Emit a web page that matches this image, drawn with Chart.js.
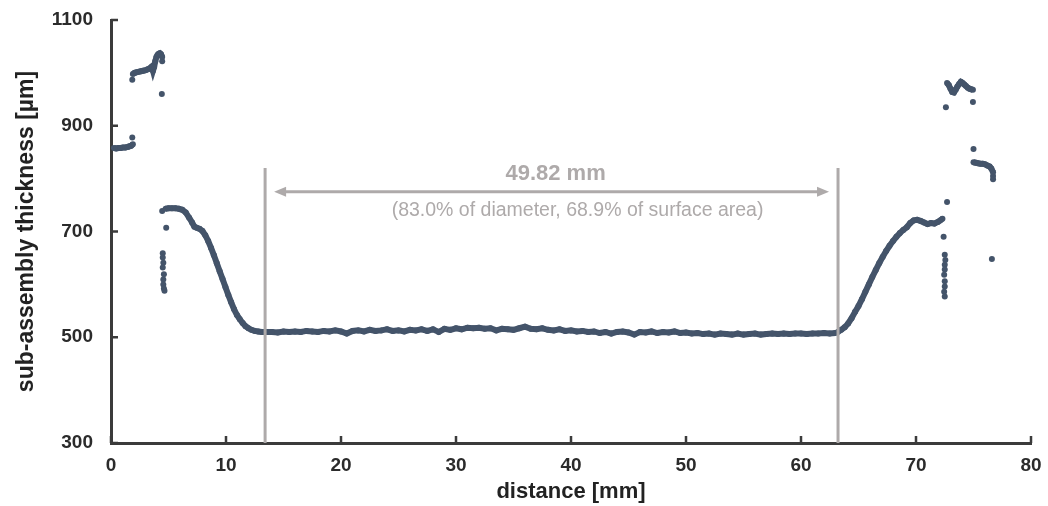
<!DOCTYPE html>
<html>
<head>
<meta charset="utf-8">
<script src="https://cdn.jsdelivr.net/npm/chart.js@4/dist/chart.umd.min.js"></script>
<style>
  html, body { margin: 0; padding: 0; background: #fff; }
</style>
</head>
<body>
<canvas id="thicknessChart" width="1048" height="506"></canvas>
<script>
// axis ticks
var xTicks = [0, 10, 20, 30, 40, 50, 60, 70, 80];
var yTicks = [300, 500, 700, 900, 1100];

// left edge, lower step
var leftLowX = [0.25, 0.45, 0.65, 0.85, 1.05, 1.25, 1.45, 1.6, 1.75, 1.9];
var leftLowY = [858, 857, 858, 858, 859, 859, 860, 861, 862, 865];

// left edge, upper step
var leftHighX = [1.9, 2.05, 2.2, 2.4, 2.6, 2.8, 3.0, 3.2, 3.4, 3.55, 3.65, 3.75, 3.85, 3.95, 4.05, 4.15, 4.25, 4.35, 4.45];
var leftHighY = [998, 1000, 1001, 1002, 1003, 1004, 1005, 1007, 1009, 1012, 1004, 1011, 1022, 1030, 1034, 1036, 1037, 1035, 1030];

// left shoulder down to the flat zone
var leftSlopeX = [4.75, 5.0, 5.3, 5.6, 5.9, 6.2, 6.5, 6.8, 7.05, 7.25, 7.45, 7.7, 7.95, 8.2, 8.45, 8.7, 8.95, 9.2, 9.45, 9.7,
                  9.95, 10.2, 10.45, 10.7, 10.95, 11.2, 11.45, 11.7, 11.95, 12.2, 12.5, 12.8, 13.1, 13.4];
var leftSlopeY = [743, 744, 744, 744, 743, 741, 736, 726, 717, 709, 707, 705, 701, 693, 682, 669, 655, 640, 625, 610,
                  595, 580, 566, 553, 542, 534, 527, 521, 517, 514, 512, 511, 510, 510];

// flat zone
var flatX = [13.5, 14, 14.5, 15, 15.5, 16, 16.5, 17, 17.5, 18, 18.5, 19, 19.5, 20, 20.5, 21, 21.5, 22, 22.5, 23,
             23.5, 24, 24.5, 25, 25.5, 26, 26.5, 27, 27.5, 28, 28.5, 29, 29.5, 30, 30.5, 31, 31.5, 32, 32.5, 33,
             33.5, 34, 34.5, 35, 35.5, 36, 36.5, 37, 37.5, 38, 38.5, 39, 39.5, 40, 40.5, 41, 41.5, 42, 42.5, 43,
             43.5, 44, 44.5, 45, 45.5, 46, 46.5, 47, 47.5, 48, 48.5, 49, 49.5, 50, 50.5, 51, 51.5, 52, 52.5, 53,
             53.5, 54, 54.5, 55, 55.5, 56, 56.5, 57, 57.5, 58, 58.5, 59, 59.5, 60, 60.5, 61, 61.5, 62, 62.5, 63];
var flatY = [510, 510, 509, 511, 510, 511, 510, 512, 511, 510, 512, 511, 513, 511, 507, 512, 513, 511, 514, 512,
             513, 515, 512, 513, 511, 514, 513, 515, 512, 515, 510, 516, 514, 517, 515, 518, 517, 518, 516, 517,
             513, 516, 515, 514, 517, 520, 516, 515, 517, 514, 513, 515, 512, 513, 511, 512, 510, 511, 508, 510,
             507, 510, 511, 509, 505, 510, 509, 511, 508, 510, 509, 511, 508, 509, 507, 508, 506, 507, 505, 507,
             506, 505, 507, 505, 506, 507, 505, 506, 507, 506, 507, 506, 507, 507, 506, 507, 507, 508, 507, 508];

// right shoulder up from the flat zone
var rightSlopeX = [63.2, 63.5, 63.8, 64.1, 64.4, 64.7, 65.0, 65.3, 65.6, 65.9, 66.2, 66.5, 66.8, 67.1, 67.4, 67.7,
                   68.0, 68.3, 68.6, 68.9, 69.2, 69.5, 69.8, 70.1, 70.4, 70.7, 71.0, 71.3, 71.6, 71.9, 72.1, 72.3];
var rightSlopeY = [510, 514, 519, 526, 536, 548, 559, 572, 586, 600, 614, 627, 640, 652, 663, 673,
                   682, 690, 697, 703, 708, 716, 721, 722, 720, 717, 714, 716, 715, 718, 721, 724];

// right edge, upper step
var rightHighX = [72.7, 72.85, 73.0, 73.15, 73.3, 73.45, 73.6, 73.75, 73.9, 74.05, 74.2, 74.35, 74.5, 74.65, 74.8, 74.95];
var rightHighY = [981, 977, 970, 964, 963, 968, 974, 979, 983, 981, 978, 975, 972, 970, 969, 968];

// right edge, lower step
var rightMidX = [75.0, 75.2, 75.4, 75.6, 75.8, 76.0, 76.2, 76.4, 76.55, 76.7];
var rightMidY = [831, 830, 829, 828, 828, 827, 825, 823, 819, 812];

// isolated readings at the edges
var strayX = [1.85, 1.85, 4.42, 4.45, 4.45, 4.8, 4.5, 4.5, 4.55, 4.5, 4.6, 4.55, 4.55, 4.6, 4.65,
              72.7, 72.4, 72.5, 72.55, 72.5, 72.5, 72.45, 72.5, 72.5, 72.45, 72.5, 72.6, 74.95, 75.0, 76.7, 76.7, 76.6];
var strayY = [878, 987, 960, 1022, 739, 707, 659, 651, 641, 632, 619, 609, 600, 592, 588,
              756, 690, 656, 646, 637, 628, 618, 606, 596, 586, 577, 935, 945, 856, 805, 799, 648];

// measured span
var spanStart = 13.40;
var spanEnd = 63.22;
var spanTop = 820;
var spanArrowY = 775;
var spanLabel = '49.82 mm';
var spanNote = '(83.0% of diameter, 68.9% of surface area)';

var dotColor = '#44546A';
var markColor = '#AEAAAA';
var axisColor = '#3b3b3b';

function toPoints(xs, ys) {
  return xs.map(function (x, i) { return { x: x, y: ys[i] }; });
}

function band(xs, ys) {
  return {
    data: toPoints(xs, ys),
    showLine: true,
    borderColor: dotColor,
    backgroundColor: dotColor,
    borderWidth: 6,
    pointRadius: 3,
    pointBorderWidth: 0,
    pointHoverRadius: 3
  };
}

// short tick marks pointing into the plot
var innerTicks = {
  id: 'innerTicks',
  afterDraw: function (chart) {
    var ctx = chart.ctx, xs = chart.scales.x, ys = chart.scales.y, a = chart.chartArea;
    ctx.save();
    ctx.strokeStyle = axisColor;
    ctx.lineWidth = 2.5;
    ctx.beginPath();
    xTicks.forEach(function (v) {
      var px = xs.getPixelForValue(v);
      ctx.moveTo(px, a.bottom);
      ctx.lineTo(px, a.bottom - 7);
    });
    yTicks.forEach(function (v) {
      var py = ys.getPixelForValue(v);
      ctx.moveTo(a.left, py);
      ctx.lineTo(a.left + 7, py);
    });
    ctx.stroke();
    ctx.restore();
  }
};

// span markers, double arrow and its labels
var spanMarker = {
  id: 'spanMarker',
  afterDatasetsDraw: function (chart) {
    var ctx = chart.ctx, xs = chart.scales.x, ys = chart.scales.y;
    var x1 = xs.getPixelForValue(spanStart), x2 = xs.getPixelForValue(spanEnd);
    var top = ys.getPixelForValue(spanTop), bottom = ys.getPixelForValue(300);
    var ay = ys.getPixelForValue(spanArrowY);
    ctx.save();
    ctx.strokeStyle = markColor;
    ctx.fillStyle = markColor;
    ctx.lineWidth = 3;
    ctx.beginPath();
    ctx.moveTo(x1, top); ctx.lineTo(x1, bottom);
    ctx.moveTo(x2, top); ctx.lineTo(x2, bottom);
    ctx.moveTo(x1 + 16, ay); ctx.lineTo(x2 - 16, ay);
    ctx.stroke();
    var l = x1 + 9, r = x2 - 9;
    ctx.beginPath();
    ctx.moveTo(l, ay); ctx.lineTo(l + 12, ay - 5); ctx.lineTo(l + 12, ay + 5); ctx.closePath();
    ctx.moveTo(r, ay); ctx.lineTo(r - 12, ay - 5); ctx.lineTo(r - 12, ay + 5); ctx.closePath();
    ctx.fill();
    var mid = (x1 + x2) / 2;
    ctx.textAlign = 'center';
    ctx.textBaseline = 'middle';
    ctx.font = 'bold 22px "Liberation Sans", Arial, sans-serif';
    ctx.fillText(spanLabel, mid + 4, ay - 18);
    ctx.font = '19.5px "Liberation Sans", Arial, sans-serif';
    ctx.fillText(spanNote, mid + 26, ay + 19);
    ctx.restore();
  }
};

Chart.defaults.font.family = '"Liberation Sans", Arial, sans-serif';

var chart = new Chart('thicknessChart', {
  type: 'scatter',
  data: {
    datasets: [
      band(leftLowX, leftLowY),
      band(leftHighX, leftHighY),
      band(leftSlopeX, leftSlopeY),
      band(flatX, flatY),
      band(rightSlopeX, rightSlopeY),
      band(rightHighX, rightHighY),
      band(rightMidX, rightMidY),
      {
        data: toPoints(strayX, strayY),
        backgroundColor: dotColor,
        borderWidth: 0,
        pointRadius: 3
      }
    ]
  },
  options: {
    responsive: false,
    animation: false,
    devicePixelRatio: 1,
    layout: { padding: { top: 20, right: 17, left: 0, bottom: 0 } },
    plugins: { legend: { display: false }, tooltip: { enabled: false } },
    scales: {
      x: {
        type: 'linear',
        min: 0,
        max: 80,
        afterBuildTicks: function (s) { s.ticks = xTicks.map(function (v) { return { value: v }; }); },
        afterFit: function (s) { s.height = 63; s.paddingLeft = 0; s.paddingRight = 0; },
        grid: { display: false, drawTicks: false },
        border: { color: axisColor, width: 3 },
        ticks: {
          color: '#2b2b2b', padding: 11, font: { size: 19, weight: 'bold' },
          callback: function (v) { return String(v); }
        },
        title: {
          display: true,
          text: 'distance [mm]',
          color: '#222',
          padding: { top: 0, bottom: 1 },
          font: { size: 22, weight: 'bold' }
        }
      },
      y: {
        min: 300,
        max: 1100,
        afterBuildTicks: function (s) { s.ticks = yTicks.map(function (v) { return { value: v }; }); },
        afterFit: function (s) { s.width = 111; s.paddingTop = 0; s.paddingBottom = 0; },
        grid: { display: false, drawTicks: false },
        border: { color: axisColor, width: 3 },
        ticks: {
          color: '#2b2b2b', padding: 18, font: { size: 19, weight: 'bold' },
          callback: function (v) { return String(v); }
        },
        title: {
          display: true,
          text: 'sub-assembly thickness [µm]',
          color: '#222',
          padding: { top: 13, bottom: 0 },
          font: { size: 23, weight: 'bold' }
        }
      }
    }
  },
  plugins: [spanMarker, innerTicks]
});
</script>
</body>
</html>
